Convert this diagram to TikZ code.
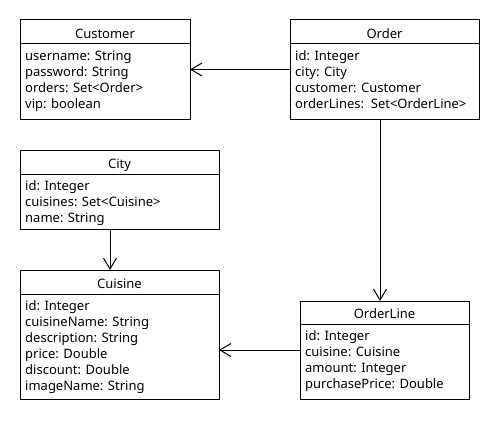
\documentclass[tikz,border=0pt]{standalone}
\usepackage{fontspec}
\setmainfont{Noto Sans}
\usetikzlibrary{arrows.meta}
\begin{document}
\begin{tikzpicture}[x=1pt,y=-1pt,
  classbox/.style={draw, line width=1pt, inner sep=0pt, outer sep=0pt},
  divline/.style={line width=1pt},
  ttl/.style={anchor=base, inner sep=0pt, font=\fontsize{13}{15}\selectfont},
  attr/.style={anchor=base west, inner sep=0pt, font=\fontsize{13}{15}\selectfont},
  assoc/.style={line width=1pt, -{Straight Barb[length=11pt,width=13pt,line width=1pt]}}]
\useasboundingbox[fill=white] (0,0) rectangle (500,420);
% Customer
\node[classbox, minimum width=170pt, minimum height=99pt] (customer) at (105,69.5) {};
\draw[divline] (20,44) -- (190,44);
\node[ttl] (customerT) at (105,38) {Customer};
\node[attr] (cu1) at (25,60) {username: String};
\node[attr] (cu2) at (25,76) {password: String};
\node[attr] (cu3) at (25,92) {orders: Set<Order>};
\node[attr] (cu4) at (25,108) {vip: boolean};
% Order
\node[classbox, minimum width=189pt, minimum height=99pt] (order) at (384.5,69.5) {};
\draw[divline] (290,44) -- (479,44);
\node[ttl] (orderT) at (384.5,38) {Order};
\node[attr] (or1) at (295,60) {id: Integer};
\node[attr] (or2) at (295,76) {city: City};
\node[attr] (or3) at (295,92) {customer: Customer};
\node[attr] (or4) at (295,108) {orderLines:\ \ Set<OrderLine>};
% City
\node[classbox, minimum width=199pt, minimum height=79pt] (city) at (119.5,189.5) {};
\draw[divline] (20,174) -- (219,174);
\node[ttl] (cityT) at (119.5,168) {City};
\node[attr] (ci1) at (25,190) {id: Integer};
\node[attr] (ci2) at (25,206) {cuisines: Set<Cuisine>};
\node[attr] (ci3) at (25,222) {name: String};
% Cuisine
\node[classbox, minimum width=199pt, minimum height=129pt] (cuisine) at (119.5,334.5) {};
\draw[divline] (20,294) -- (219,294);
\node[ttl] (cuisineT) at (119.5,288) {Cuisine};
\node[attr] (cs1) at (25,310) {id: Integer};
\node[attr] (cs2) at (25,326) {cuisineName: String};
\node[attr] (cs3) at (25,342) {description: String};
\node[attr] (cs4) at (25,358) {price: Double};
\node[attr] (cs5) at (25,374) {discount: Double};
\node[attr] (cs6) at (25,390) {imageName: String};
% OrderLine
\node[classbox, minimum width=169pt, minimum height=98pt] (orderline) at (384.5,350) {};
\draw[divline] (300,324) -- (469,324);
\node[ttl] (orderlineT) at (384.5,318) {OrderLine};
\node[attr] (ol1) at (305,340) {id: Integer};
\node[attr] (ol2) at (305,356) {cuisine: Cuisine};
\node[attr] (ol3) at (305,372) {amount: Integer};
\node[attr] (ol4) at (305,388) {purchasePrice: Double};
% connectors
\draw[assoc] (order.west) -- (customer.east);
\draw[assoc] ([xshift=-4.5pt]order.south) -- ([xshift=-4.5pt]orderline.north);
\draw[assoc] ([xshift=-9.5pt]city.south) -- ([xshift=-9.5pt]cuisine.north);
\draw[assoc] (orderline.west) -- (orderline.west -| cuisine.east);
\end{tikzpicture}
\end{document}
